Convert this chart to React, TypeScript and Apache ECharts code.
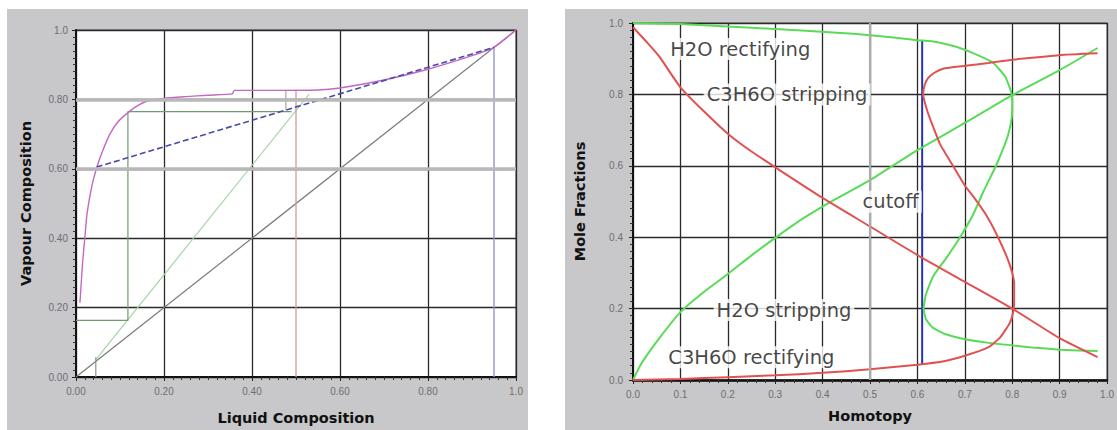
import React, { useEffect, useRef } from "react";
import * as echarts from "echarts";

// ---------- Left chart: McCabe-Thiele diagram ----------
const leftXTicks = ["0.00", "0.20", "0.40", "0.60", "0.80", "1.0"];
const leftYTicks = ["0.00", "0.20", "0.40", "0.60", "0.80", "1.0"];

const diagonal = [[0, 0], [1, 1]];
const equilibrium = [
  [0.009, 0.214], [0.015, 0.33], [0.02, 0.4], [0.025, 0.47], [0.036, 0.55],
  [0.047, 0.603], [0.06, 0.65], [0.077, 0.7], [0.095, 0.735], [0.118, 0.762],
  [0.14, 0.782], [0.16, 0.794], [0.2, 0.803], [0.25, 0.808], [0.3, 0.812],
  [0.355, 0.816], [0.36, 0.826], [0.45, 0.826], [0.55, 0.827], [0.6, 0.833],
  [0.7, 0.856], [0.8, 0.887], [0.9, 0.926], [0.95, 0.95], [1.0, 1.0],
];
const rectifyingLine = [[0.047, 0.605], [0.95, 0.95]];
const strippingLine = [[0.045, 0.05], [0.53, 0.815]];
const stages = [[0, 0.163], [0.118, 0.163], [0.118, 0.765], [0.49, 0.765]];
const bottomsMark = [[0.045, 0], [0.045, 0.057]];
const feedMark = [[0.5, 0], [0.5, 0.826]];
const feedStep = [[0.477, 0.77], [0.477, 0.826]];
const distillateMark = [[0.95, 0], [0.95, 0.95]];
const highlightY = [0.6, 0.8];

// ---------- Right chart: homotopy profiles ----------
const rightXTicks = ["0.0", "0.1", "0.2", "0.3", "0.4", "0.5", "0.6", "0.7", "0.8", "0.9", "1.0"];
const rightYTicks = ["0.0", "0.2", "0.4", "0.6", "0.8", "1.0"];

const greenUpper = [
  [0, 1.0], [0.1, 0.997], [0.2, 0.99], [0.3, 0.983], [0.43, 0.973], [0.5, 0.966],
  [0.6, 0.952], [0.64, 0.947], [0.68, 0.934], [0.72, 0.914], [0.76, 0.888],
  [0.785, 0.85], [0.797, 0.81], [0.8, 0.78], [0.799, 0.735], [0.792, 0.69],
  [0.78, 0.645], [0.765, 0.598], [0.74, 0.53], [0.717, 0.462], [0.69, 0.4],
  [0.66, 0.34], [0.633, 0.29], [0.618, 0.24], [0.613, 0.2], [0.618, 0.17],
  [0.633, 0.146], [0.66, 0.128], [0.7, 0.114], [0.75, 0.104], [0.8, 0.097],
  [0.85, 0.09], [0.9, 0.085], [0.98, 0.081],
];
const greenRising = [
  [0, 0.0], [0.015, 0.04], [0.035, 0.08], [0.06, 0.125], [0.1, 0.19], [0.15, 0.247],
  [0.2, 0.297], [0.25, 0.349], [0.3, 0.398], [0.35, 0.445], [0.425, 0.505],
  [0.5, 0.56], [0.6, 0.644], [0.7, 0.72], [0.8, 0.798], [0.9, 0.868], [0.98, 0.93],
];
const redFalling = [
  [0, 0.988], [0.03, 0.945], [0.056, 0.905], [0.1, 0.82], [0.15, 0.752], [0.2, 0.69],
  [0.25, 0.64], [0.3, 0.596], [0.4, 0.51], [0.5, 0.43], [0.6, 0.35], [0.7, 0.275],
  [0.8, 0.2], [0.9, 0.117], [0.98, 0.064],
];
const redS = [
  [0, 0.0], [0.1, 0.003], [0.2, 0.008], [0.3, 0.013], [0.4, 0.02], [0.5, 0.03],
  [0.6, 0.043], [0.65, 0.051], [0.7, 0.068], [0.75, 0.092], [0.775, 0.12],
  [0.795, 0.16], [0.802, 0.19], [0.804, 0.22], [0.804, 0.27], [0.8, 0.3],
  [0.79, 0.34], [0.77, 0.4], [0.745, 0.462], [0.72, 0.51], [0.7, 0.545],
  [0.675, 0.6], [0.648, 0.66], [0.63, 0.72], [0.62, 0.757], [0.612, 0.8],
  [0.615, 0.825], [0.622, 0.845], [0.635, 0.86], [0.654, 0.872], [0.7, 0.88],
  [0.75, 0.888], [0.8, 0.897], [0.9, 0.91], [0.98, 0.915],
];
const cutoff = [[0.61, 0.045], [0.61, 0.95]];
const grayVertical = [0.5];
const annotations = [
  { name: "H2O rectifying", value: [0.071, 0.927] },
  { name: "C3H6O stripping", value: [0.148, 0.8] },
  { name: "cutoff", value: [0.477, 0.499] },
  { name: "H2O stripping", value: [0.169, 0.196] },
  { name: "C3H6O rectifying", value: [0.067, 0.064] },
];

const PANEL = "#c8c7ca";
const LABEL_FONT = "DejaVu Sans";

function axisCommon(ticks: string[], interval: number, minorSplit: number, margin: number) {
  return {
    type: "value" as const,
    min: 0,
    max: 1,
    interval,
    axisLine: { show: true, onZero: false, lineStyle: { color: "#111", width: 2 } },
    axisTick: { show: true, length: 4, lineStyle: { color: "#222" } },
    minorTick: { show: true, splitNumber: minorSplit, length: 3, lineStyle: { color: "#333" } },
    splitLine: { show: true, lineStyle: { color: "#2a2a2a", width: 1.3 } },
    axisLabel: {
      color: "#6e6e6e",
      fontSize: 10,
      margin,
      fontFamily: "Liberation Sans",
      formatter: (v: number) => ticks[Math.round(v / interval)] ?? "",
    },
    nameLocation: "middle" as const,
    nameTextStyle: { fontFamily: LABEL_FONT, fontWeight: "bold" as const, fontSize: 14.5, color: "#111" },
  };
}

function lineSeries(data: number[][], xi: number, color: string, width: number, extra: any = {}) {
  return {
    type: "line",
    xAxisIndex: xi,
    yAxisIndex: xi,
    data,
    showSymbol: false,
    symbol: "none",
    silent: true,
    lineStyle: { color, width },
    ...extra,
  };
}

export default function App() {
  const ref = useRef<HTMLDivElement>(null);
  useEffect(() => {
    document.body.style.margin = "0";
    if (!ref.current) return;
    const chart = echarts.init(ref.current, undefined, { renderer: "svg" });
    chart.setOption({
      animation: false,
      backgroundColor: "#ffffff",
      graphic: [
        { type: "rect", z: -10, silent: true, shape: { x: 7, y: 9, width: 521, height: 421 }, style: { fill: PANEL } },
        { type: "rect", z: -10, silent: true, shape: { x: 565, y: 9, width: 552, height: 421 }, style: { fill: PANEL } },
      ],
      grid: [
        { left: 76, top: 30, width: 440, height: 350, show: true, backgroundColor: "#fff", borderColor: "#777", borderWidth: 1.5 },
        { left: 633, top: 23, width: 478, height: 357, show: true, backgroundColor: "#fff", borderColor: "#888", borderWidth: 1.5 },
      ],
      xAxis: [
        { ...axisCommon(leftXTicks, 0.2, 10, 9), gridIndex: 0, name: "Liquid Composition", nameGap: 33 },
        {
          ...axisCommon(rightXTicks, 0.1, 5, 9), gridIndex: 1, name: "Homotopy", nameGap: 28,
          axisLine: { show: true, onZero: false, lineStyle: { color: "#111", width: 2.5 } },
        },
      ],
      yAxis: [
        { ...axisCommon(leftYTicks, 0.2, 10, 8), gridIndex: 0, name: "Vapour Composition", nameGap: 43 },
        { ...axisCommon(rightYTicks, 0.2, 10, 10), gridIndex: 1, name: "Mole Fractions", nameGap: 46 },
      ],
      series: [
        // left chart
        lineSeries(diagonal, 0, "#7a7a7a", 1.2, {
          markLine: {
            silent: true,
            symbol: "none",
            label: { show: false },
            lineStyle: { color: "#b8b8b8", width: 3.5, type: "solid" },
            data: highlightY.map((v) => ({ yAxis: v })),
          },
        }),
        lineSeries(strippingLine, 0, "#a8d4a8", 1.2),
        lineSeries(stages, 0, "#6f9c6f", 1.2),
        lineSeries(bottomsMark, 0, "#7f9f7f", 1.2),
        lineSeries(feedMark, 0, "#d49a9a", 1.3),
        lineSeries(feedStep, 0, "#b8a0a8", 1.2),
        lineSeries(distillateMark, 0, "#9494cc", 1.4),
        lineSeries(equilibrium, 0, "#c468c4", 1.4, { smooth: 0.2 }),
        lineSeries(rectifyingLine, 0, "#4a4aa8", 1.6, { lineStyle: { color: "#4a4aa8", width: 1.6, type: [6, 3] } }),
        // right chart
        lineSeries([], 1, "#999", 0, {
          markLine: {
            silent: true,
            symbol: "none",
            label: { show: false },
            lineStyle: { color: "#ababab", width: 2.2, type: "solid" },
            data: grayVertical.map((v) => ({ xAxis: v })),
          },
        }),
        lineSeries(cutoff, 1, "#2233bb", 2),
        lineSeries(greenUpper, 1, "#58dc58", 2, { smooth: 0.15 }),
        lineSeries(greenRising, 1, "#58dc58", 2, { smooth: 0.2 }),
        lineSeries(redFalling, 1, "#e05252", 2, { smooth: 0.2 }),
        lineSeries(redS, 1, "#e05252", 2, { smooth: 0.15 }),
        {
          type: "scatter",
          xAxisIndex: 1,
          yAxisIndex: 1,
          silent: true,
          symbolSize: 1,
          itemStyle: { color: "rgba(0,0,0,0)" },
          data: annotations,
          label: {
            show: true,
            position: "right",
            distance: 0,
            formatter: "{b}",
            color: "#151515",
            fontFamily: LABEL_FONT,
            fontSize: 19.5,
            backgroundColor: "#ffffff",
            padding: [1, 3, 1, 3],
          },
          z: 5,
        },
      ],
    });
    return () => chart.dispose();
  }, []);
  return <div ref={ref} style={{ width: 1117, height: 430 }} />;
}
